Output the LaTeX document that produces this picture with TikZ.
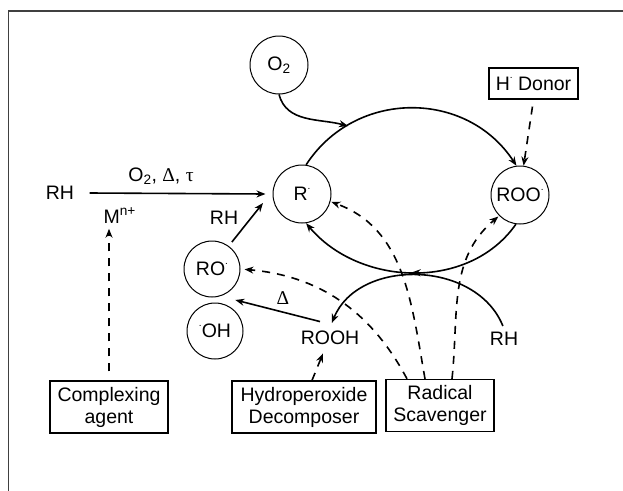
\documentclass[tikz,border=0pt]{standalone}
\usepackage{fontspec}
\setmainfont{Liberation Sans}
\newfontfamily\greekfont{Liberation Serif}
\usetikzlibrary{arrows.meta,calc,decorations.markings}
\newcommand{\rdot}{\raisebox{0.6em}{\fontsize{10}{10}\selectfont .}}
\begin{document}
\begin{tikzpicture}
  [x=1pt,y=-1pt,>={Stealth[length=9pt,width=7pt]},
   every node/.style={font=\fontsize{19.5}{22}\selectfont},
   species/.style={draw,circle,line width=1pt,minimum size=58pt,inner sep=0pt},
   agent/.style={draw,line width=1.3pt,align=center,minimum height=52pt,inner sep=2pt},
   arr/.style={->,line width=1.6pt},
   darr/.style={->,line width=1.6pt,dash pattern=on 8pt off 7pt},
   midarr/.style={postaction={decorate,decoration={markings,mark=at position 0.5 with {\arrow{>}}}}},]

\clip (0,0) rectangle (623,490);
\draw[line width=1.3pt,black!75] (8.5,11) rectangle (640,510);

\node[species] (O2) at (279,65) {O\textsubscript{2}};
\node[species] (R) at (302,194) {R\rdot};
\node[species] (ROO) at (520,195) {ROO\rdot};
\node[species,minimum size=56pt] (RO) at (212,269) {RO\rdot};
\node[species,minimum size=56pt] (OH) at (215,331) {\rdot OH};

\node[agent,minimum height=31pt,minimum width=89pt] (donor) at (533.5,83.5) {H\rdot{} Donor};
\node[agent,minimum width=118pt] (complex) at (109,407) {Complexing\\agent};
\node[agent,minimum width=144pt] (decomp) at (304,407) {Hydroperoxide\\Decomposer};
\node[agent,minimum width=108pt] (scav) at (440,405.5) {Radical\\Scavenger};

\node (rh1) at (60,193) {RH};
\node (rh2) at (224,218) {RH};
\node (rooh) at (330,338) {ROOH};
\node (rh3) at (504,339) {RH};
\node (cond) at (161,176) {O\textsubscript{2}, {\greekfont Δ}, {\greekfont τ}};
\node[anchor=west] (metal) at (100,215.5) {M\textsuperscript{n+}};
\node (heat) at (283,298) {{\greekfont Δ}};

\coordinate (o2tip) at (348,126);
\coordinate (rtip) at (263,203);
\coordinate (gap) at ($(RO.-40)!0.5!(OH.40)$);

\draw[arr] ([xshift=12pt]rh1.east) -- ([xshift=-7pt]R.west);
\draw[darr,shorten <=9pt,shorten >=2pt] (complex.north) -- (complex.north |- metal.south);
\draw[arr,shorten <=5pt] (RO.54) -- (rtip);
\draw[arr] (O2.south) to[out=-75,in=165] (o2tip);
\draw[arr] (R.82) to[out=57,in=123,looseness=1.1] (ROO.97);
\draw[arr,midarr] (ROO.262) to[out=235,in=-50] (R.278);
\draw[arr,shorten <=3pt,shorten >=5pt] (rh3.north) to[out=112,in=68,looseness=1.1] (rooh.north);
\draw[arr] ([shift={(-10pt,6pt)}]rooh.north) -- (gap);

\draw[darr,shorten <=7pt] (donor.south) -- (ROO.83);
\draw[darr] ([xshift=8pt]decomp.north) -- ([shift={(-7pt,-5pt)}]rooh.south);
\draw[darr,shorten >=4pt] ([xshift=-33pt]scav.north) to[out=118,in=-5] (RO.east);
\draw[darr,shorten >=1pt] ([xshift=-15pt]scav.north) to[out=100,in=-20] (R.-15);
\draw[darr,shorten >=1pt] ([xshift=12pt]scav.north) to[out=84,in=220] (ROO.225);

\end{tikzpicture}
\end{document}
